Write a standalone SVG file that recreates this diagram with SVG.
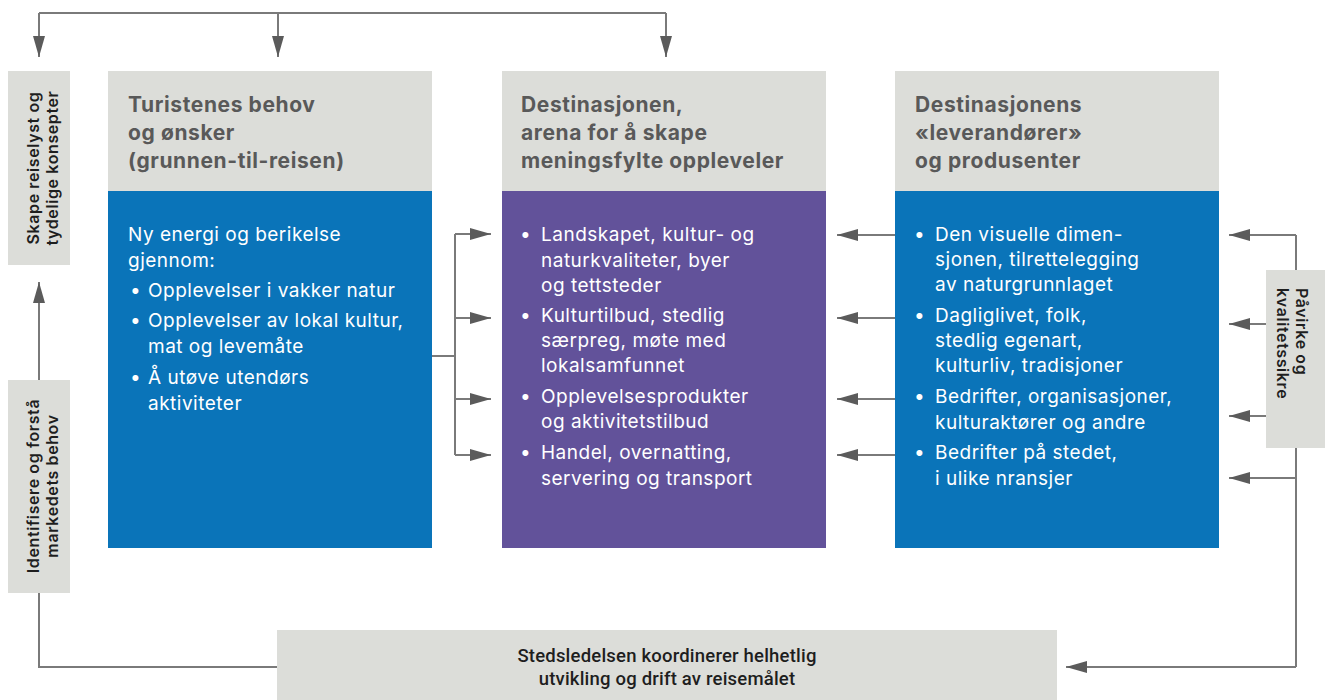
<svg xmlns="http://www.w3.org/2000/svg" width="1325" height="700" viewBox="0 0 1325 700">
  <defs>
    <marker id="arrow" viewBox="0 0 21 12" refX="21" refY="6" markerWidth="21" markerHeight="12" markerUnits="userSpaceOnUse" orient="auto">
      <path d="M0,0 L21,6 L0,12 Z" fill="#5b5b5b"/>
    </marker>
    <style>
      .gray { fill: #dcddd9; }
      .blue { fill: #0a74b9; }
      .purple { fill: #62529a; }
      .line { fill: none; stroke: #7a7a7a; stroke-width: 2; }
      .arr { marker-end: url(#arrow); }
      .head { font-family: "Inter", "Liberation Sans", sans-serif; font-weight: 700; font-size: 21px; letter-spacing: 0.6px; fill: #595959; }
      .body { font-family: "Inter", "Liberation Sans", sans-serif; font-weight: 400; font-size: 19px; letter-spacing: 0.5px; fill: #ffffff; }
      .side { font-family: "Inter", "Liberation Sans", sans-serif; font-weight: 600; font-size: 16px; letter-spacing: 0.6px; fill: #1e1e1e; }
      .foot { font-family: "Liberation Sans Narrow", "Roboto", "Liberation Sans", sans-serif; font-weight: 500; font-size: 18.5px; letter-spacing: 0.2px; fill: #1e1e1e; text-anchor: middle; }
    </style>
  </defs>

  <!-- connectors -->
  <g id="connectors">
    <!-- top distribution line -->
    <path class="line" d="M39,13 H666"/>
    <path class="line arr" d="M39,13 V57"/>
    <path class="line arr" d="M278,13 V57"/>
    <path class="line arr" d="M666,13 V57"/>
    <!-- left column: identify -> create -->
    <path class="line arr" d="M39,380 V282"/>
    <path class="line" d="M39,593 V667 H277"/>
    <!-- tourist needs -> destination -->
    <path class="line" d="M432,356 H455 M455,234 V455"/>
    <path class="line arr" d="M455,234 H491"/>
    <path class="line arr" d="M455,318 H491"/>
    <path class="line arr" d="M455,399 H491"/>
    <path class="line arr" d="M455,455 H491"/>
    <!-- suppliers -> destination -->
    <path class="line arr" d="M895,235 H837"/>
    <path class="line arr" d="M895,318 H837"/>
    <path class="line arr" d="M895,399 H837"/>
    <path class="line arr" d="M895,455 H837"/>
    <!-- right side loop -->
    <path class="line" d="M1296,235 V667"/>
    <path class="line arr" d="M1296,235 H1229"/>
    <path class="line arr" d="M1266,324 H1229"/>
    <path class="line arr" d="M1266,416 H1229"/>
    <path class="line arr" d="M1296,478 H1229"/>
    <path class="line arr" d="M1296,667 H1066"/>
  </g>

  <!-- left side boxes -->
  <g id="skape">
    <rect class="gray" x="8" y="71" width="62" height="194"/>
    <text class="side" transform="translate(39,168) rotate(-90)" text-anchor="middle">Skape reiselyst og</text>
    <text class="side" transform="translate(58,168) rotate(-90)" text-anchor="middle">tydelige konsepter</text>
  </g>
  <g id="identifisere">
    <rect class="gray" x="8" y="380" width="62" height="213"/>
    <text class="side" transform="translate(39,486) rotate(-90)" text-anchor="middle">Identifisere og forstå</text>
    <text class="side" transform="translate(58,486) rotate(-90)" text-anchor="middle">markedets behov</text>
  </g>

  <!-- column 1 -->
  <g id="turistene">
    <rect class="gray" x="108" y="71" width="324" height="120"/>
    <rect class="blue" x="108" y="191" width="324" height="357"/>
    <text class="head" x="128" y="112">Turistenes behov</text>
    <text class="head" x="128" y="140">og ønsker</text>
    <text class="head" x="128" y="168">(grunnen-til-reisen)</text>
    <text class="body" x="128" y="241">Ny energi og berikelse</text>
    <text class="body" x="128" y="267">gjennom:</text>
    <text class="body" x="130" y="297">•</text>
    <text class="body" x="148" y="297">Opplevelser i vakker natur</text>
    <text class="body" x="130" y="327">•</text>
    <text class="body" x="148" y="327">Opplevelser av lokal kultur,</text>
    <text class="body" x="148" y="353">mat og levemåte</text>
    <text class="body" x="130" y="384">•</text>
    <text class="body" x="148" y="384">Å utøve utendørs</text>
    <text class="body" x="148" y="410">aktiviteter</text>
  </g>

  <!-- column 2 -->
  <g id="destinasjonen">
    <rect class="gray" x="502" y="71" width="324" height="120"/>
    <rect class="purple" x="502" y="191" width="324" height="357"/>
    <text class="head" x="521" y="112">Destinasjonen,</text>
    <text class="head" x="521" y="140">arena for å skape</text>
    <text class="head" x="521" y="168">meningsfylte oppleveler</text>
    <text class="body" x="520" y="241">•</text>
    <text class="body" x="541" y="241">Landskapet, kultur- og</text>
    <text class="body" x="541" y="267">naturkvaliteter, byer</text>
    <text class="body" x="541" y="292">og tettsteder</text>
    <text class="body" x="520" y="322">•</text>
    <text class="body" x="541" y="322">Kulturtilbud, stedlig</text>
    <text class="body" x="541" y="347">særpreg, møte med</text>
    <text class="body" x="541" y="372">lokalsamfunnet</text>
    <text class="body" x="520" y="403">•</text>
    <text class="body" x="541" y="403">Opplevelsesprodukter</text>
    <text class="body" x="541" y="428">og aktivitetstilbud</text>
    <text class="body" x="520" y="459">•</text>
    <text class="body" x="541" y="459">Handel, overnatting,</text>
    <text class="body" x="541" y="485">servering og transport</text>
  </g>

  <!-- column 3 -->
  <g id="leverandorer">
    <rect class="gray" x="895" y="71" width="324" height="120"/>
    <rect class="blue" x="895" y="191" width="324" height="357"/>
    <text class="head" x="915" y="112">Destinasjonens</text>
    <text class="head" x="915" y="140">«leverandører»</text>
    <text class="head" x="915" y="168">og produsenter</text>
    <text class="body" x="914" y="241">•</text>
    <text class="body" x="935" y="241">Den visuelle dimen-</text>
    <text class="body" x="935" y="266">sjonen, tilrettelegging</text>
    <text class="body" x="935" y="291">av naturgrunnlaget</text>
    <text class="body" x="914" y="322">•</text>
    <text class="body" x="935" y="322">Dagliglivet, folk,</text>
    <text class="body" x="935" y="347">stedlig egenart,</text>
    <text class="body" x="935" y="372">kulturliv, tradisjoner</text>
    <text class="body" x="914" y="403">•</text>
    <text class="body" x="935" y="403">Bedrifter, organisasjoner,</text>
    <text class="body" x="935" y="429">kulturaktører og andre</text>
    <text class="body" x="914" y="459">•</text>
    <text class="body" x="935" y="459">Bedrifter på stedet,</text>
    <text class="body" x="935" y="485">i ulike nransjer</text>
  </g>

  <!-- right side box -->
  <g id="pavirke">
    <rect class="gray" x="1266" y="270" width="59" height="178"/>
    <text class="side" transform="translate(1296,288) rotate(90)">Påvirke og</text>
    <text class="side" transform="translate(1277,288) rotate(90)">kvalitetssikre</text>
  </g>

  <!-- bottom box -->
  <g id="stedsledelsen">
    <rect class="gray" x="277" y="630" width="780" height="70"/>
    <text class="foot" x="667" y="662">Stedsledelsen koordinerer helhetlig</text>
    <text class="foot" x="667" y="685">utvikling og drift av reisemålet</text>
  </g>
</svg>
